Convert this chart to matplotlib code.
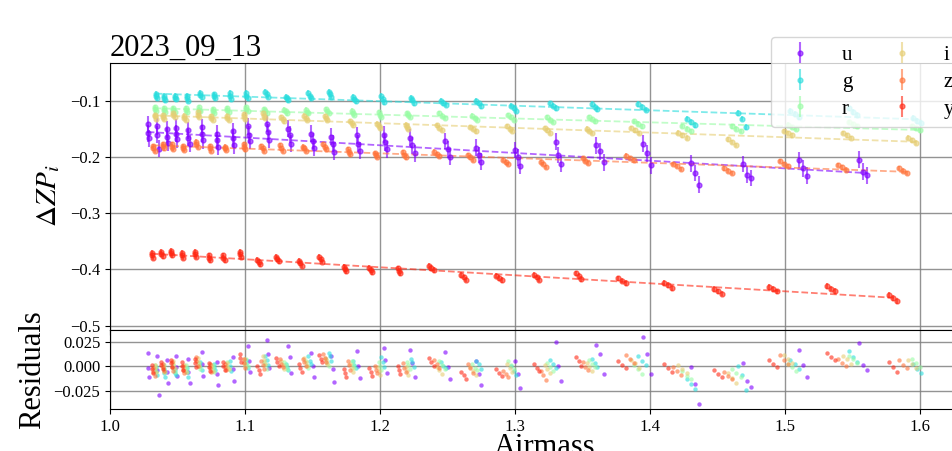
import matplotlib

matplotlib.use("Agg")
import matplotlib.pyplot as plt
import numpy as np

plt.rcParams["font.family"] = ["Liberation Serif", "DejaVu Serif"]
plt.rcParams["mathtext.fontset"] = "stix"

night = "2023_09_13"
bands = ["u", "g", "r", "i", "z", "y"]
colors = ["#8000ff", "#29dddd", "#99fca5", "#e6ce74", "#ff743b", "#ff2814"]
zp_err = [0.015, 0.005, 0.004, 0.004, 0.004, 0.005]

# airmass and zero-point offset of every exposure, per band
u_am = [1.028, 1.028, 1.029, 1.035, 1.035, 1.036, 1.042, 1.042, 1.043, 1.049, 1.049, 1.050,
        1.058, 1.058, 1.059, 1.068, 1.068, 1.069, 1.079, 1.079, 1.080, 1.091, 1.091, 1.092,
        1.102, 1.103, 1.104, 1.116, 1.117, 1.118, 1.132, 1.133, 1.134, 1.149, 1.150, 1.151,
        1.164, 1.165, 1.166, 1.183, 1.184, 1.185, 1.203, 1.204, 1.205, 1.222, 1.224, 1.226,
        1.248, 1.250, 1.252, 1.271, 1.273, 1.275, 1.300, 1.302, 1.304, 1.330, 1.332, 1.334,
        1.360, 1.363, 1.366, 1.395, 1.398, 1.401, 1.430, 1.433, 1.436, 1.469, 1.472, 1.475,
        1.510, 1.513, 1.516, 1.555, 1.558, 1.561]
u_zp = [-0.141, -0.157, -0.166, -0.145, -0.160, -0.185, -0.150, -0.163, -0.174, -0.147, -0.158, -0.168,
        -0.152, -0.165, -0.176, -0.146, -0.158, -0.170, -0.158, -0.170, -0.181, -0.154, -0.166, -0.179,
        -0.145, -0.160, -0.171, -0.140, -0.155, -0.169, -0.149, -0.160, -0.176, -0.158, -0.171, -0.183,
        -0.163, -0.176, -0.190, -0.161, -0.176, -0.188, -0.160, -0.173, -0.186, -0.165, -0.179, -0.193,
        -0.171, -0.186, -0.199, -0.183, -0.196, -0.208, -0.187, -0.200, -0.215, -0.172, -0.196, -0.212,
        -0.179, -0.189, -0.209, -0.176, -0.193, -0.214, -0.211, -0.228, -0.249, -0.212, -0.231, -0.237,
        -0.205, -0.220, -0.233, -0.204, -0.226, -0.232]

g_am = [1.034, 1.034, 1.035, 1.040, 1.040, 1.041, 1.048, 1.048, 1.049, 1.057, 1.057, 1.058,
        1.067, 1.067, 1.068, 1.077, 1.077, 1.078, 1.089, 1.089, 1.090, 1.101, 1.101, 1.102,
        1.115, 1.116, 1.117, 1.130, 1.131, 1.132, 1.147, 1.148, 1.149, 1.162, 1.163, 1.164,
        1.180, 1.181, 1.182, 1.201, 1.202, 1.203, 1.223, 1.224, 1.225, 1.245, 1.247, 1.249,
        1.271, 1.273, 1.275, 1.297, 1.299, 1.301, 1.326, 1.328, 1.330, 1.357, 1.359, 1.361,
        1.391, 1.394, 1.397, 1.427, 1.430, 1.433, 1.465, 1.468, 1.471, 1.504, 1.507, 1.510,
        1.547, 1.550, 1.553, 1.595, 1.598, 1.601]
g_zp = [-0.087, -0.091, -0.095, -0.090, -0.094, -0.098, -0.091, -0.094, -0.096, -0.090, -0.094, -0.099,
        -0.085, -0.089, -0.093, -0.088, -0.091, -0.094, -0.086, -0.091, -0.096, -0.086, -0.090, -0.094,
        -0.083, -0.087, -0.092, -0.092, -0.095, -0.098, -0.085, -0.090, -0.094, -0.083, -0.087, -0.092,
        -0.093, -0.097, -0.100, -0.091, -0.096, -0.101, -0.094, -0.098, -0.103, -0.099, -0.103, -0.106,
        -0.100, -0.104, -0.109, -0.108, -0.113, -0.117, -0.104, -0.108, -0.112, -0.105, -0.110, -0.114,
        -0.105, -0.110, -0.115, -0.131, -0.137, -0.142, -0.121, -0.131, -0.146, -0.118, -0.123, -0.128,
        -0.113, -0.119, -0.124, -0.130, -0.135, -0.139]

r_am = [1.033, 1.033, 1.034, 1.040, 1.040, 1.041, 1.047, 1.047, 1.048, 1.056, 1.056, 1.057,
        1.066, 1.066, 1.067, 1.076, 1.076, 1.077, 1.087, 1.087, 1.088, 1.101, 1.101, 1.102,
        1.114, 1.115, 1.116, 1.129, 1.130, 1.131, 1.145, 1.146, 1.147, 1.160, 1.161, 1.162,
        1.179, 1.180, 1.181, 1.199, 1.200, 1.201, 1.220, 1.221, 1.222, 1.244, 1.246, 1.248,
        1.268, 1.270, 1.272, 1.295, 1.297, 1.299, 1.324, 1.326, 1.328, 1.355, 1.357, 1.359,
        1.388, 1.391, 1.394, 1.424, 1.427, 1.430, 1.461, 1.464, 1.467, 1.502, 1.505, 1.508,
        1.547, 1.550, 1.553, 1.594, 1.597, 1.600]
r_zp = [-0.111, -0.114, -0.118, -0.112, -0.116, -0.119, -0.112, -0.115, -0.119, -0.113, -0.116, -0.120,
        -0.111, -0.115, -0.118, -0.114, -0.117, -0.121, -0.112, -0.116, -0.119, -0.110, -0.114, -0.117,
        -0.114, -0.117, -0.121, -0.115, -0.118, -0.122, -0.115, -0.119, -0.122, -0.114, -0.118, -0.121,
        -0.117, -0.121, -0.124, -0.120, -0.124, -0.128, -0.121, -0.124, -0.128, -0.122, -0.126, -0.130,
        -0.126, -0.130, -0.133, -0.125, -0.129, -0.133, -0.129, -0.133, -0.137, -0.128, -0.132, -0.136,
        -0.136, -0.140, -0.145, -0.144, -0.149, -0.153, -0.145, -0.149, -0.153, -0.142, -0.146, -0.150,
        -0.137, -0.141, -0.145, -0.144, -0.148, -0.152]

i_am = [1.033, 1.033, 1.034, 1.039, 1.039, 1.040, 1.047, 1.047, 1.048, 1.055, 1.055, 1.056,
        1.065, 1.065, 1.066, 1.075, 1.075, 1.076, 1.087, 1.087, 1.088, 1.099, 1.099, 1.100,
        1.113, 1.114, 1.115, 1.127, 1.128, 1.129, 1.144, 1.145, 1.146, 1.159, 1.160, 1.161,
        1.178, 1.179, 1.180, 1.198, 1.199, 1.200, 1.219, 1.220, 1.221, 1.242, 1.244, 1.246,
        1.267, 1.269, 1.271, 1.294, 1.296, 1.298, 1.322, 1.324, 1.326, 1.353, 1.355, 1.357,
        1.386, 1.389, 1.392, 1.421, 1.424, 1.427, 1.458, 1.461, 1.464, 1.499, 1.502, 1.505,
        1.543, 1.546, 1.549, 1.591, 1.594, 1.597]
i_zp = [-0.124, -0.127, -0.131, -0.125, -0.128, -0.132, -0.121, -0.124, -0.128, -0.126, -0.130, -0.133,
        -0.120, -0.124, -0.128, -0.127, -0.130, -0.134, -0.126, -0.130, -0.133, -0.123, -0.127, -0.131,
        -0.122, -0.126, -0.130, -0.128, -0.132, -0.136, -0.126, -0.130, -0.134, -0.127, -0.130, -0.134,
        -0.135, -0.139, -0.143, -0.140, -0.144, -0.148, -0.142, -0.146, -0.150, -0.143, -0.147, -0.151,
        -0.146, -0.150, -0.154, -0.145, -0.149, -0.153, -0.148, -0.152, -0.156, -0.149, -0.153, -0.157,
        -0.148, -0.152, -0.157, -0.156, -0.161, -0.165, -0.168, -0.173, -0.178, -0.153, -0.157, -0.161,
        -0.157, -0.161, -0.166, -0.165, -0.170, -0.174]

z_am = [1.032, 1.032, 1.033, 1.039, 1.039, 1.040, 1.046, 1.046, 1.047, 1.054, 1.054, 1.055,
        1.064, 1.064, 1.065, 1.074, 1.074, 1.075, 1.085, 1.085, 1.086, 1.099, 1.099, 1.100,
        1.112, 1.113, 1.114, 1.126, 1.127, 1.128, 1.143, 1.144, 1.145, 1.158, 1.159, 1.160,
        1.176, 1.177, 1.178, 1.196, 1.197, 1.198, 1.217, 1.218, 1.219, 1.240, 1.242, 1.244,
        1.265, 1.267, 1.269, 1.291, 1.293, 1.295, 1.319, 1.321, 1.323, 1.350, 1.352, 1.354,
        1.382, 1.385, 1.388, 1.417, 1.420, 1.423, 1.455, 1.458, 1.461, 1.496, 1.499, 1.502,
        1.539, 1.542, 1.545, 1.584, 1.587, 1.590]
z_zp = [-0.180, -0.184, -0.189, -0.177, -0.180, -0.184, -0.176, -0.181, -0.185, -0.180, -0.184, -0.187,
        -0.172, -0.176, -0.181, -0.180, -0.184, -0.188, -0.181, -0.184, -0.187, -0.177, -0.181, -0.186,
        -0.180, -0.184, -0.188, -0.179, -0.184, -0.188, -0.181, -0.184, -0.188, -0.177, -0.181, -0.185,
        -0.186, -0.190, -0.195, -0.192, -0.196, -0.199, -0.191, -0.196, -0.200, -0.190, -0.194, -0.198,
        -0.196, -0.200, -0.205, -0.205, -0.209, -0.212, -0.208, -0.212, -0.217, -0.201, -0.206, -0.210,
        -0.197, -0.201, -0.205, -0.212, -0.216, -0.221, -0.220, -0.224, -0.228, -0.207, -0.212, -0.216,
        -0.214, -0.218, -0.222, -0.219, -0.224, -0.228]

y_am = [1.031, 1.031, 1.032, 1.038, 1.038, 1.039, 1.045, 1.045, 1.046, 1.053, 1.053, 1.054,
        1.063, 1.063, 1.064, 1.073, 1.073, 1.074, 1.084, 1.084, 1.085, 1.096, 1.096, 1.097,
        1.109, 1.110, 1.111, 1.123, 1.124, 1.125, 1.140, 1.141, 1.142, 1.155, 1.156, 1.157,
        1.173, 1.174, 1.175, 1.192, 1.193, 1.194, 1.213, 1.214, 1.215, 1.236, 1.238, 1.240,
        1.260, 1.262, 1.264, 1.286, 1.288, 1.290, 1.314, 1.316, 1.318, 1.345, 1.347, 1.349,
        1.376, 1.379, 1.382, 1.410, 1.413, 1.416, 1.447, 1.450, 1.453, 1.488, 1.491, 1.494,
        1.531, 1.534, 1.537, 1.577, 1.580, 1.583]
y_zp = [-0.371, -0.375, -0.379, -0.368, -0.372, -0.376, -0.367, -0.371, -0.375, -0.371, -0.375, -0.379,
        -0.369, -0.373, -0.377, -0.375, -0.379, -0.383, -0.375, -0.379, -0.383, -0.369, -0.373, -0.377,
        -0.383, -0.387, -0.391, -0.377, -0.381, -0.385, -0.385, -0.389, -0.393, -0.378, -0.382, -0.386,
        -0.395, -0.399, -0.403, -0.397, -0.401, -0.405, -0.398, -0.402, -0.406, -0.393, -0.397, -0.401,
        -0.410, -0.414, -0.418, -0.411, -0.415, -0.419, -0.410, -0.414, -0.418, -0.407, -0.412, -0.417,
        -0.416, -0.420, -0.424, -0.424, -0.428, -0.433, -0.435, -0.439, -0.443, -0.431, -0.435, -0.439,
        -0.430, -0.434, -0.438, -0.446, -0.451, -0.456]

airmass = [u_am, g_am, r_am, i_am, z_am, y_am]
zeropoints = [u_zp, g_zp, r_zp, i_zp, z_zp, y_zp]

fig = plt.figure(figsize=(9.53, 4.51), dpi=100)
ax = fig.add_axes([0.1154, 0.2694, 0.913, 0.5909])
axr = fig.add_axes([0.1154, 0.0931, 0.913, 0.1763], sharex=ax)

for band, color, err, am, zp in zip(bands, colors, zp_err, airmass, zeropoints):
    am = np.array(am)
    zp = np.array(zp)
    coef = np.polyfit(am, zp, 1)
    ax.errorbar(am, zp, yerr=err, fmt="o", ms=3.5, color=color, alpha=0.6,
                elinewidth=1.5, capsize=0, label=band)
    xx = np.array([am.min(), am.max()])
    ax.plot(xx, np.polyval(coef, xx), "--", color=color, alpha=0.6, lw=1.3)
    axr.scatter(am, zp - np.polyval(coef, am), s=10, color=color, alpha=0.6, lw=0)

ax.set_xlim(1.0, 1.6444)
ax.set_ylim(-0.507, -0.032)
ax.set_yticks([-0.5, -0.4, -0.3, -0.2, -0.1])
axr.set_ylim(-0.043, 0.0372)
axr.set_yticks([-0.025, 0.0, 0.025])
axr.set_xticks([1.0, 1.1, 1.2, 1.3, 1.4, 1.5, 1.6])
ax.tick_params(labelbottom=False, labelsize=12)
axr.tick_params(labelsize=12)

for a in (ax, axr):
    a.grid(True, color="gray", lw=1, alpha=0.85)
    a.set_axisbelow(True)

ax.set_title(night, loc="left", fontsize=22, pad=3)
ax.set_ylabel(r"$\Delta ZP_i$", fontsize=21)
ax.yaxis.set_label_coords(-0.055, 0.5)
axr.set_ylabel("Residuals", fontsize=22)
axr.yaxis.set_label_coords(-0.072, 0.5)
axr.set_xlabel("Airmass", fontsize=22, labelpad=-1)

fig.legend(loc="upper left", bbox_to_anchor=(771 / 953, 1 - 37 / 451), ncol=2, fontsize=15,
           borderaxespad=0, columnspacing=1.4, handletextpad=1.0, labelspacing=0.35)

fig.savefig("out.png", dpi=100)
plt.close(fig)
